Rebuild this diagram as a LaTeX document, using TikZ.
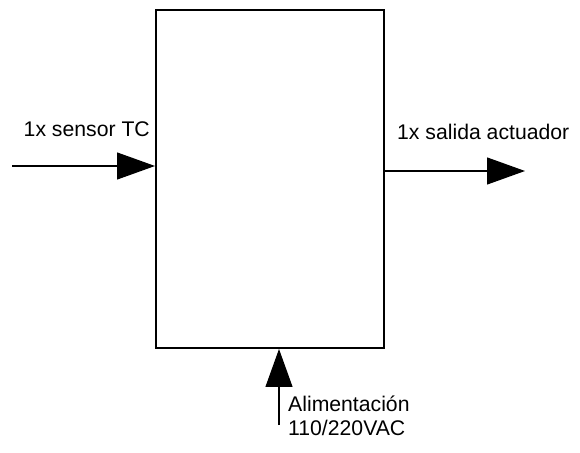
\documentclass[tikz,border=0pt]{standalone}
\usepackage{fontspec}
\setmainfont{Liberation Sans}
\usetikzlibrary{arrows.meta}
\begin{document}
\begin{tikzpicture}[x=1pt,y=1pt,
    font=\fontsize{21.2}{23.5}\selectfont,
    flow/.style={line width=1.2pt,-{Triangle[length=38pt,width=27pt]}}]
        \useasboundingbox (0,0) rectangle (580,452);
        \node[draw,line width=2pt,minimum width=228pt,minimum height=338pt] (ctrl) at (270,273) {};
        \coordinate (in) at (12,286);
        \coordinate (out) at (525,281);
        \coordinate (pwr) at (279,27);
        \draw[flow] (in) -- (ctrl.west |- in);
        \draw[flow] (ctrl.east |- out) -- (out);
        \draw[flow] (pwr) -- (pwr |- ctrl.south);
        \node[anchor=base east,inner sep=0] (inlbl) at (150,315) {1x sensor TC};
        \node[anchor=base west,inner sep=0] (outlbl) at (397,312) {1x salida actuador};
        \node[anchor=north west,inner sep=0,align=left] (pwrlbl) at (288,56) {Alimentación\\110/220VAC};
\end{tikzpicture}
\end{document}
